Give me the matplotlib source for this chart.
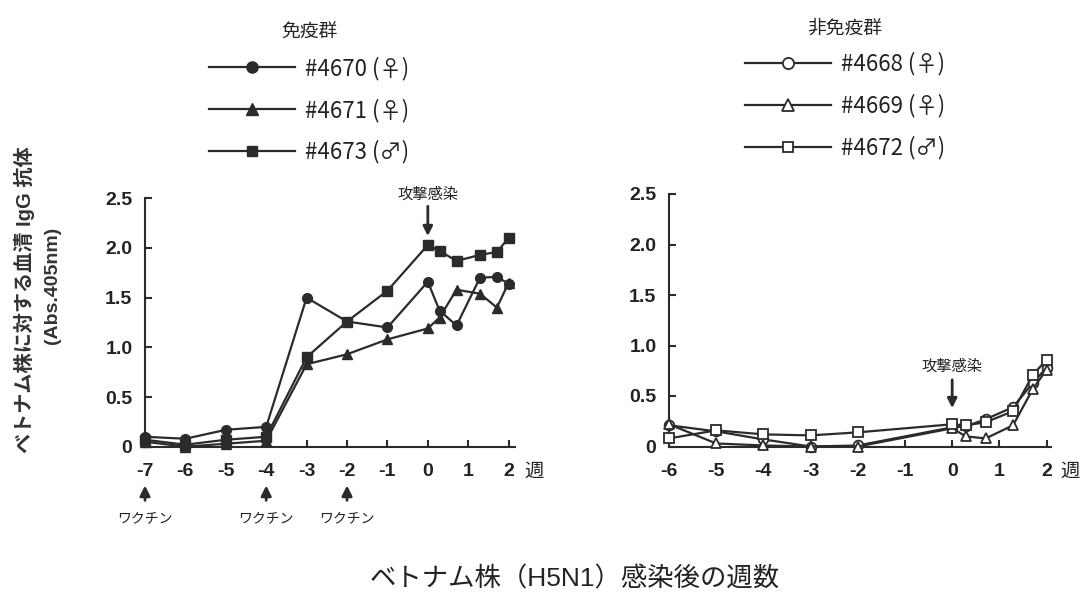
import matplotlib
matplotlib.use('Agg')
import matplotlib.pyplot as plt

plt.rcParams['font.family'] = ['Liberation Sans', 'DejaVu Sans', 'Noto Sans CJK JP']
plt.rcParams['axes.unicode_minus'] = False
CJK = ['Noto Sans CJK JP', 'DejaVu Sans']
MIX = ['Liberation Sans', 'Noto Sans CJK JP', 'DejaVu Sans']

# ---------------- data ----------------
weeks_imm = [-7, -6, -5, -4, -3, -2, -1, 0, 0.29, 0.71, 1.29, 1.71, 2.0]
imm_4670 = [0.10, 0.08, 0.17, 0.20, 1.50, 1.26, 1.20, 1.66, 1.37, 1.22, 1.70, 1.71, 1.64]
imm_4671 = [0.05, 0.00, 0.03, 0.06, 0.83, 0.93, 1.08, 1.19, 1.30, 1.58, 1.54, 1.40, 1.65]
imm_4673 = [0.07, 0.02, 0.07, 0.10, 0.90, 1.26, 1.57, 2.03, 1.97, 1.87, 1.93, 1.96, 2.10]

weeks_non = [-6, -5, -4, -3, -2, 0, 0.29, 0.71, 1.29, 1.71, 2.0]
non_4668 = [0.21, 0.15, 0.07, 0.00, 0.01, 0.19, 0.20, 0.27, 0.39, 0.63, 0.78]
non_4669 = [0.22, 0.03, 0.01, 0.00, 0.00, 0.18, 0.10, 0.08, 0.21, 0.57, 0.76]
non_4672 = [0.08, 0.16, 0.12, 0.11, 0.14, 0.22, 0.21, 0.24, 0.35, 0.71, 0.86]

labels_imm = ['#4670 (♀)', '#4671 (♀)', '#4673 (♂)']
labels_non = ['#4668 (♀)', '#4669 (♀)', '#4672 (♂)']
title_imm = '免疫群'
title_non = '非免疫群'

xticks_imm = [-7, -6, -5, -4, -3, -2, -1, 0, 1, 2]
xticks_non = [-6, -5, -4, -3, -2, -1, 0, 1, 2]
yticks = [0, 0.5, 1.0, 1.5, 2.0, 2.5]
ytick_labels = ['0', '0.5', '1.0', '1.5', '2.0', '2.5']
vaccine_weeks = [-7, -4, -2]
challenge_week = 0

C = '#2b2b2b'
T = '#222222'
fig = plt.figure(figsize=(10.84, 5.98), dpi=100)

axL = fig.add_axes([145/1084, 1-446.7/598, 369.7/1084, 248.4/598])
axR = fig.add_axes([669/1084, 1-446.5/598, 382.3/1084, 252.5/598])

lw = 1.6
ms = 7
hL = []
for y, m in zip([imm_4670, imm_4671, imm_4673], ['o', '^', 's']):
    h, = axL.plot(weeks_imm, y, color=C, lw=lw, marker=m, ms=ms if m != 's' else ms-0.5,
                  mfc=C, mec=C, clip_on=False, zorder=3)
    hL.append(h)
hR = []
for y, m in zip([non_4668, non_4669, non_4672], ['o', '^', 's']):
    h, = axR.plot(weeks_non, y, color=C, lw=lw, marker=m, ms=ms if m != 's' else ms-0.5,
                  mfc='white', mec=C, mew=1.3, clip_on=False, zorder=3)
    hR.append(h)

for ax, xt, xl in [(axL, xticks_imm, (-7, 2.15)), (axR, xticks_non, (-6, 2.1))]:
    ax.set_xlim(*xl)
    ax.set_ylim(0, 2.5)
    for s in ['top', 'right']:
        ax.spines[s].set_visible(False)
    for s in ['left', 'bottom']:
        ax.spines[s].set_linewidth(1.5)
        ax.spines[s].set_color(C)
    ax.set_xticks(xt)
    ax.set_xticklabels([str(v) for v in xt], fontsize=14, fontweight='bold', color=T)
    ax.set_yticks(yticks)
    ax.set_yticklabels(ytick_labels, fontsize=14, fontweight='bold', color=T)
    ax.tick_params(axis='both', direction='in', length=5, width=1.5, color=C)
    ax.tick_params(axis='y', pad=9)
    ax.tick_params(axis='x', pad=12)
    ax.text(1.025, -0.1, '週', transform=ax.transAxes, fontsize=14, ha='left', va='center',
            color=T, family=CJK)

# legends
legL = axL.legend(hL, labels_imm, title=title_imm, frameon=False, loc='upper center',
                  bbox_to_anchor=(309/1084, 0.99), bbox_transform=fig.transFigure,
                  fontsize=16, title_fontsize=13.5, handlelength=3.9, handletextpad=0.45,
                  labelspacing=0.82, borderpad=0.2, markerscale=1.15)
legR = axR.legend(hR, labels_non, title=title_non, frameon=False, loc='upper center',
                  bbox_to_anchor=(845/1084, 0.997), bbox_transform=fig.transFigure,
                  fontsize=16, title_fontsize=13.5, handlelength=3.9, handletextpad=0.45,
                  labelspacing=0.82, borderpad=0.2, markerscale=1.15)
for leg in (legL, legR):
    for t in leg.get_texts():
        t.set_color(T)
        t.set_family(['Noto Sans CJK JP', 'DejaVu Sans'])
    leg.get_title().set_color(T)
    leg.get_title().set_family(CJK)
    leg._legend_box.sep = 10

arrow_kw = dict(arrowstyle='-|>', color=C, lw=2, shrinkA=0, shrinkB=0)
# challenge infection arrows
axL.annotate('', xy=(challenge_week, 2.12), xytext=(challenge_week, 2.42),
             arrowprops=dict(mutation_scale=14, **arrow_kw), annotation_clip=False)
axL.text(challenge_week, 2.54, '攻撃感染', ha='center', va='center', fontsize=11, color=T, family=CJK)
axR.annotate('', xy=(challenge_week, 0.38), xytext=(challenge_week, 0.66),
             arrowprops=dict(mutation_scale=14, **arrow_kw), annotation_clip=False)
axR.text(challenge_week, 0.79, '攻撃感染', ha='center', va='center', fontsize=11, color=T, family=CJK)

# vaccine arrows
for w in vaccine_weeks:
    axL.annotate('', xy=(w, -0.39), xytext=(w, -0.54),
                 arrowprops=dict(mutation_scale=15, **arrow_kw), annotation_clip=False)
    axL.text(w, -0.72, 'ワクチン', ha='center', va='center', fontsize=10, color=T, family=CJK)

# axis labels
fig.text(25/1084, 1-300/598, 'ベトナム株に対する血清 IgG 抗体', rotation=90, ha='center', va='center',
         fontsize=14.5, fontweight='bold', color='#333333', family=MIX)
fig.text(52/1084, 1-285/598, '(Abs.405nm)', rotation=90, ha='center', va='center',
         fontsize=14, fontweight='bold', color='#333333')
fig.text(575/1084, 1-579/598, 'ベトナム株（H5N1）感染後の週数', ha='center', va='center',
         fontsize=19, color=T, family=MIX)

fig.savefig('out.png', dpi=100)
